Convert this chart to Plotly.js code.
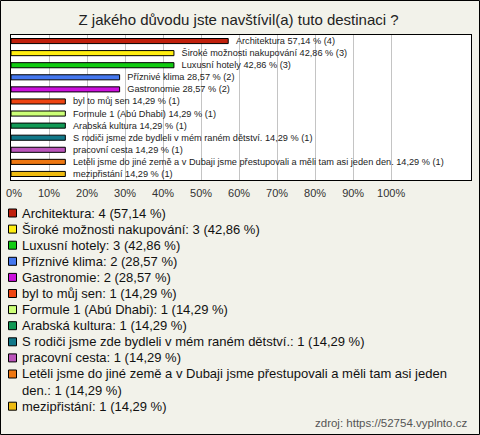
<!DOCTYPE html>
<html>
<head>
<meta charset="utf-8">
<script src="https://cdn.plot.ly/plotly-3.0.1.min.js"></script>
<style>
html,body{margin:0;padding:0;background:#f2f2ea;}
#chart{width:480px;height:435px;}
</style>
</head>
<body>
<div id="chart"></div>
<script>
// ---- data ----
const categories = [
  "Architektura",
  "Široké možnosti nakupování",
  "Luxusní hotely",
  "Příznivé klima",
  "Gastronomie",
  "byl to můj sen",
  "Formule 1 (Abú Dhabi)",
  "Arabská kultura",
  "S rodiči jsme zde bydleli v mém raném dětství.",
  "pracovní cesta",
  "Letěli jsme do jiné země a v Dubaji jsme přestupovali a měli tam asi jeden den.",
  "mezipřistání"
];
const counts = [4, 3, 3, 2, 2, 1, 1, 1, 1, 1, 1, 1];
const percents = [57.14, 42.86, 42.86, 28.57, 28.57, 14.29, 14.29, 14.29, 14.29, 14.29, 14.29, 14.29];
const colors = ["#c0200c", "#ffee11", "#11cc11", "#4477ee", "#cc11dd", "#ee4411",
                "#ccff77", "#119955", "#117788", "#bb55bb", "#ee7711", "#eebb11"];
const tickValues = [0, 10, 20, 30, 40, 50, 60, 70, 80, 90, 100];
const tickLabels = ["0%", "10%", "20%", "30%", "40%", "50%", "60%", "70%", "80%", "90%", "100%"];
const titleText = "Z jakého důvodu jste navštívil(a) tuto destinaci ?";
const sourceText = "zdroj: https://52754.vyplnto.cz";

// ---- helpers ----
const FONT = "Liberation Sans, Arial, sans-serif";
const fmt = v => v.toFixed(2).replace(".", ",");
const NB = "\u00a0";

function wrap(text, maxChars) {
  const words = text.split(" ");
  const lines = [];
  let cur = "";
  words.forEach(w => {
    if (cur.length && (cur + " " + w).length > maxChars) { lines.push(cur); cur = w; }
    else cur = cur ? cur + " " + w : w;
  });
  if (cur) lines.push(cur);
  return lines;
}

const barTexts = categories.map((c, i) => NB + NB + NB + c + " " + fmt(percents[i]) + " % (" + counts[i] + ")");

const legendLines = categories.map((c, i) => wrap(c + ": " + counts[i] + " (" + fmt(percents[i]) + " %)", 76));
const lineStart = [];
let acc = 0;
legendLines.forEach(l => { lineStart.push(acc); acc += l.length; });

// ---- traces ----
const bars = {
  type: "bar",
  orientation: "h",
  x: percents,
  y: categories,
  width: 0.42,
  marker: { color: colors, line: { color: "#000", width: 1 } },
  text: barTexts,
  textposition: "outside",
  constraintext: "none",
  cliponaxis: false,
  textfont: { family: FONT, size: 9.2, color: "#222" },
  hoverinfo: "skip",
  xaxis: "x", yaxis: "y"
};

const legendMarks = {
  type: "scatter",
  mode: "markers",
  x: categories.map(() => 0),
  y: lineStart,
  marker: { symbol: "square", size: 8, color: colors, line: { color: "#000", width: 1 } },
  hoverinfo: "skip",
  xaxis: "x2", yaxis: "y2"
};

const legendAnn = legendLines.map((lines, i) => ({
  xref: "x2", yref: "y2",
  x: 0, y: lineStart[i] + (lines.length - 1) / 2,
  xshift: 7,
  xanchor: "left", yanchor: "middle", align: "left",
  showarrow: false,
  text: lines.join("<br>"),
  font: { family: FONT, size: 13, color: "#111" }
}));

const H = 435, W = 480;
const layout = {
  width: W, height: H,
  margin: { l: 0, r: 0, t: 0, b: 0, pad: 0 },
  paper_bgcolor: "#f2f2ea",
  plot_bgcolor: "rgba(0,0,0,0)",
  showlegend: false,
  title: {
    text: titleText,
    font: { family: FONT, size: 15, color: "#222" },
    x: 0.497, xanchor: "center",
    yref: "container", y: 1 - 20 / H, yanchor: "middle"
  },
  xaxis: {
    domain: [11 / W, 471 / W],
    range: [0, 121],
    tickvals: tickValues,
    ticktext: tickLabels.map((t, i) => i === 0 ? NB.repeat(2) + t : t),
    ticklabeloverflow: "allow",
    showgrid: true, gridcolor: "#c4c4c4", gridwidth: 1,
    zeroline: false,
    showline: true, mirror: true, linecolor: "#000", linewidth: 1,
    ticks: "",
    ticklabelstandoff: 3,
    tickfont: { family: FONT, size: 11, color: "#333" },
    fixedrange: true,
    anchor: "y"
  },
  yaxis: {
    domain: [1 - 180 / H, 1 - 35 / H],
    type: "category",
    categoryorder: "array", categoryarray: categories,
    range: [11.5, -0.5],
    showticklabels: false, ticks: "",
    showgrid: false, zeroline: false,
    showline: true, mirror: true, linecolor: "#000", linewidth: 1,
    fixedrange: true,
    anchor: "x"
  },
  xaxis2: {
    domain: [0, 1], range: [-12.5, W - 12.5],
    visible: false, fixedrange: true, anchor: "y2"
  },
  yaxis2: {
    domain: [0, 1 - 200 / H],
    range: [(H - 213) / 16.1, -13 / 16.1],
    visible: false, fixedrange: true, anchor: "x2"
  },
  shapes: [
    { type: "rect", xref: "x domain", yref: "y domain", x0: 0, x1: 1, y0: 0, y1: 1,
      fillcolor: "#ffffff", line: { width: 0 }, layer: "below" },
    { type: "rect", xref: "paper", yref: "paper",
      x0: 0.5 / W, x1: (W - 0.5) / W, y0: 0.5 / H, y1: (H - 0.5) / H,
      line: { color: "#000", width: 1 }, fillcolor: "rgba(0,0,0,0)", layer: "above" }
  ],
  annotations: legendAnn.concat([{
    xref: "paper", yref: "paper",
    x: 469 / W, y: 1 - 423 / H,
    xanchor: "right", yanchor: "middle",
    showarrow: false,
    text: sourceText,
    font: { family: FONT, size: 11.5, color: "#555" }
  }])
};

Plotly.newPlot("chart", [bars, legendMarks], layout, { displayModeBar: false, staticPlot: true });
</script>
</body>
</html>
